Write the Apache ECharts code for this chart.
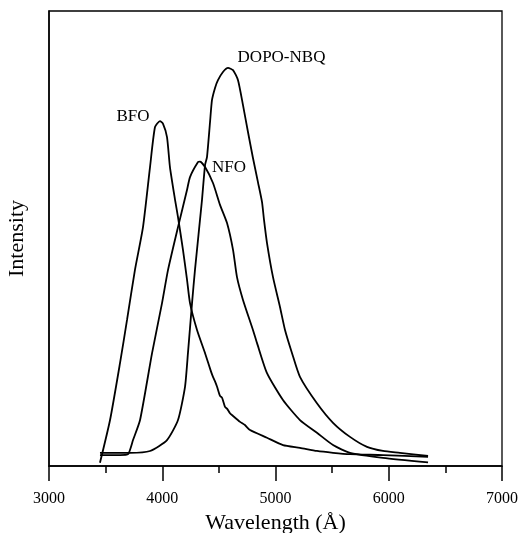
<!DOCTYPE html>
<html>
<head>
<meta charset="utf-8">
<script src="https://cdn.jsdelivr.net/npm/echarts@6/dist/echarts.min.js"></script>
<style>
  html, body { margin: 0; padding: 0; background: #fff; }
  #chart { width: 523px; height: 533px; }
</style>
</head>
<body>
<div id="chart"></div>
<script>
// Emission spectra: wavelength (Å) vs relative intensity
const bfoWavelength = [3450, 3539, 3627, 3689, 3759, 3830, 3892, 3936, 3980, 4007, 4042, 4068, 4113, 4139, 4183, 4219, 4245, 4307, 4378, 4430, 4448, 4466, 4484, 4510, 4528, 4554, 4572, 4598, 4625, 4687, 4730, 4775, 4925, 5066, 5216, 5366, 5508, 5658, 5949, 6347];
const bfoIntensity  = [0.7, 10.1, 22.6, 32.1, 43.1, 52.5, 65.7, 74.5, 75.8, 75.2, 72.3, 65.7, 58.5, 54.7, 47.5, 40.9, 35.8, 29.9, 24.8, 20.8, 19.6, 18.6, 17.4, 15.4, 15.0, 13.0, 12.6, 11.6, 11.0, 9.7, 9.0, 7.9, 6.2, 4.6, 4.0, 3.3, 2.9, 2.6, 2.4, 2.0];

const nfoWavelength = [3450, 3627, 3698, 3742, 3804, 3910, 3998, 4051, 4139, 4219, 4245, 4316, 4333, 4378, 4448, 4510, 4572, 4625, 4660, 4713, 4801, 4837, 4925, 5066, 5216, 5366, 5508, 5658, 5949, 6347];
const nfoIntensity  = [2.4, 2.4, 2.6, 5.7, 10.1, 24.8, 35.8, 43.1, 52.5, 60.7, 63.5, 66.8, 66.9, 65.7, 62.2, 57.4, 53.4, 47.5, 41.5, 36.5, 29.9, 27.0, 20.4, 14.5, 10.1, 7.3, 4.6, 2.9, 1.8, 0.8];

const dopoWavelength = [3450, 3715, 3892, 4042, 4139, 4201, 4227, 4263, 4289, 4351, 4378, 4395, 4422, 4439, 4466, 4492, 4536, 4581, 4625, 4669, 4713, 4757, 4801, 4845, 4881, 4898, 4925, 4978, 5040, 5084, 5146, 5216, 5366, 5508, 5658, 5808, 5949, 6099, 6347];
const dopoIntensity  = [2.9, 2.9, 3.3, 5.7, 10.1, 17.4, 24.8, 35.8, 43.1, 58.5, 66.2, 67.9, 75.6, 80.4, 83.1, 84.8, 86.6, 87.5, 87.0, 84.8, 79.3, 73.4, 67.7, 62.4, 58.0, 54.2, 49.0, 41.5, 34.9, 29.9, 24.8, 19.6, 13.8, 9.5, 6.4, 4.2, 3.3, 2.9, 2.2];

const seriesNames = ['BFO', 'NFO', 'DOPO-NBQ'];
const xTicks = [3000, 4000, 5000, 6000, 7000];

const serif = 'Liberation Serif';

function pairs(xs, ys) {
  return xs.map((x, i) => [x, ys[i]]);
}

// label anchor for each curve name (data coordinates)
const nameAnchors = {
  'BFO': [3742, 76.7],
  'NFO': [4590, 65.7],
  'DOPO-NBQ': [5053, 89.7]
};

function curve(name, xs, ys) {
  return {
    name: name,
    type: 'line',
    data: pairs(xs, ys),
    showSymbol: false,
    smooth: 0.2,
    lineStyle: { color: '#000', width: 1.8 },
    silent: true,
    markPoint: {
      symbol: 'circle',
      symbolSize: 0,
      silent: true,
      label: {
        show: true,
        formatter: name,
        color: '#000',
        fontFamily: serif,
        fontSize: 17,
        position: 'inside'
      },
      data: [{ coord: nameAnchors[name] }]
    }
  };
}

const chart = echarts.init(document.getElementById('chart'), null, { renderer: 'canvas' });

chart.setOption({
  animation: false,
  backgroundColor: '#fff',
  grid: {
    left: 49, right: 21, top: 11, bottom: 67,
    outerBoundsMode: 'none',
    containLabel: false,
    show: true,
    borderColor: '#000',
    borderWidth: 1.3,
    backgroundColor: 'transparent'
  },
  xAxis: {
    type: 'value',
    min: xTicks[0],
    max: xTicks[xTicks.length - 1],
    interval: 1000,
    name: 'Wavelength (Å)',
    nameLocation: 'middle',
    nameGap: 44,
    nameTextStyle: { fontFamily: serif, fontSize: 22, color: '#000' },
    axisLine: { show: true, lineStyle: { color: '#000', width: 1.5 } },
    axisTick: { show: true, length: 15, lineStyle: { color: '#000', width: 1.5 } },
    minorTick: { show: true, splitNumber: 2, length: 7, lineStyle: { color: '#000', width: 1.5 } },
    axisLabel: {
      fontFamily: serif, fontSize: 16, color: '#000', margin: 25,
      formatter: v => String(v)
    },
    splitLine: { show: false }
  },
  yAxis: {
    type: 'value',
    min: 0,
    max: 100,
    name: 'Intensity',
    nameLocation: 'middle',
    nameGap: 21,
    nameTextStyle: { fontFamily: serif, fontSize: 22, color: '#000' },
    axisLine: { show: true, lineStyle: { color: '#000', width: 1.5 } },
    axisTick: { show: false },
    axisLabel: { show: false },
    splitLine: { show: false }
  },
  series: [
    curve(seriesNames[0], bfoWavelength, bfoIntensity),
    curve(seriesNames[1], nfoWavelength, nfoIntensity),
    curve(seriesNames[2], dopoWavelength, dopoIntensity)
  ]
});
</script>
</body>
</html>
